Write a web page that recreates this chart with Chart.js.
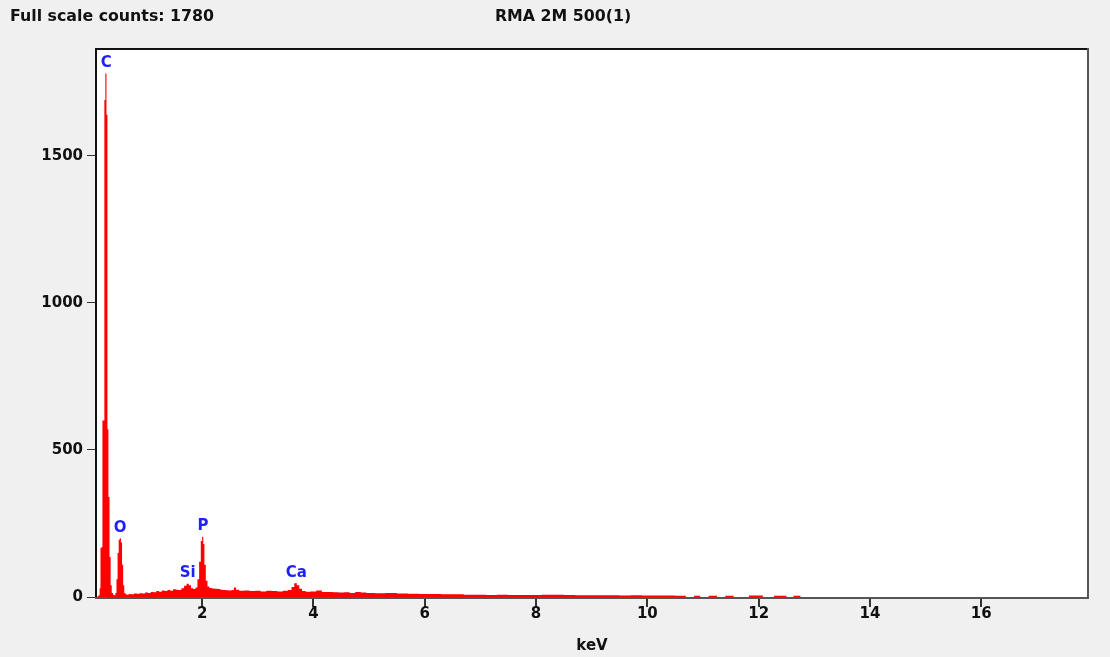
<!DOCTYPE html>
<html>
<head>
<meta charset="utf-8">
<title>RMA 2M 500(1)</title>
<script src="https://cdn.jsdelivr.net/npm/chart.js@4.4.1/dist/chart.umd.min.js"></script>
<style>
  body { margin: 0; background: #f0f0f0; }
  #wrap { position: relative; width: 1110px; height: 657px; background: #f0f0f0; overflow: hidden; }
  .head { position: absolute; top: 6px; font: bold 15.8px "DejaVu Sans", sans-serif; color: #111; white-space: nowrap; }
  #scale { left: 10px; }
  #name { left: 563px; transform: translateX(-50%); }
  canvas { position: absolute; left: 0; top: 0; }
</style>
</head>
<body>
<div id="wrap">
  <canvas id="spectrum" width="1110" height="657"></canvas>
  <div class="head" id="scale">Full scale counts: 1780</div>
  <div class="head" id="name">RMA 2M 500(1)</div>
</div>
<script>
// spectrum (keV / counts)
const energies = [
  0.11, 0.13, 0.15, 0.165, 0.18, 0.2, 0.215, 0.235, 0.25, 0.27, 0.29, 0.305, 0.325, 0.345, 0.365, 0.385,
  0.41, 0.43, 0.45, 0.47, 0.49, 0.51, 0.53, 0.55, 0.57, 0.59, 0.61, 0.63, 0.66, 0.7, 0.75, 0.8,
  0.85, 0.9, 0.95, 1.0, 1.05, 1.1, 1.15, 1.2, 1.25, 1.3, 1.35, 1.4, 1.45, 1.5, 1.55, 1.6,
  1.65, 1.7, 1.74, 1.78, 1.82, 1.86, 1.9, 1.93, 1.96, 1.99, 2.01, 2.03, 2.05, 2.08, 2.11, 2.15,
  2.2, 2.25, 2.3, 2.35, 2.4, 2.45, 2.5, 2.55, 2.59, 2.63, 2.7, 2.8, 2.9, 3.0, 3.1, 3.2,
  3.3, 3.4, 3.5, 3.58, 3.63, 3.68, 3.72, 3.77, 3.82, 3.9, 4.0, 4.1, 4.2, 4.3, 4.4, 4.5,
  4.6, 4.7, 4.8, 4.9, 5.0, 5.2, 5.4, 5.6, 5.8, 6.0, 6.2, 6.4, 6.6, 6.8, 7.0, 7.2,
  7.4, 7.6, 7.8, 8.0, 8.2, 8.4, 8.6, 8.8, 9.0, 9.2, 9.4, 9.6, 9.8, 10.0, 10.2, 10.4,
  10.6, 10.78, 10.9, 11.0, 11.2, 11.3, 11.5, 11.6, 12.05, 12.1, 12.45, 12.55, 12.7, 12.8, 17.9
];
const counts = [
  0, 3, 6, 30, 167, 170, 600, 600, 1690, 1780, 1640, 570, 340, 136, 40, 14,
  8, 6, 14, 60, 150, 195, 200, 185, 110, 40, 14, 9, 8, 10, 9, 12,
  11, 13, 12, 15, 14, 17, 16, 20, 18, 22, 20, 24, 21, 26, 25, 24,
  30, 38, 45, 40, 30, 27, 32, 60, 120, 190, 205, 180, 110, 55, 36, 31,
  29, 28, 27, 25, 24, 23, 22, 24, 32, 25, 21, 22, 20, 21, 19, 21,
  20, 19, 21, 24, 34, 47, 40, 28, 20, 18, 19, 22, 17, 17, 16, 15,
  16, 14, 17, 15, 14, 13, 14, 12, 11, 10, 10, 9, 9, 8, 8, 7,
  8, 7, 7, 7, 8, 8, 7, 6, 6, 6, 6, 5, 6, 5, 5, 5,
  4, 0, 4, 0, 4, 0, 4, 0, 5, 0, 4, 0, 4, 0, 0
];

// element markers
const elements = ["C", "O", "Si", "P", "Ca"];
const elementKeV = [0.277, 0.525, 1.74, 2.013, 3.69];
const elementPeak = [1780, 200, 47, 205, 47];

const xTicks = [2, 4, 6, 8, 10, 12, 14, 16];
const yTicks = [0, 500, 1000, 1500];

const plotFrame = {
  id: "plotFrame",
  beforeDraw(chart) {
    const { ctx, chartArea: a } = chart;
    ctx.save();
    ctx.fillStyle = "#ffffff";
    ctx.fillRect(a.left, a.top, a.right - a.left, a.bottom - a.top);
    ctx.restore();
  },
  afterDraw(chart) {
    const { ctx, chartArea: a } = chart;
    ctx.save();
    ctx.lineWidth = 2;
    ctx.strokeStyle = "#111";
    ctx.beginPath();
    ctx.moveTo(a.left - 1, a.bottom);
    ctx.lineTo(a.left - 1, a.top - 1);
    ctx.lineTo(a.right, a.top - 1);
    ctx.stroke();
    ctx.strokeStyle = "#555";
    ctx.beginPath();
    ctx.moveTo(a.right + 1, a.top - 2);
    ctx.lineTo(a.right + 1, a.bottom + 1);
    ctx.lineTo(a.left - 2, a.bottom + 1);
    ctx.stroke();
    ctx.restore();
  }
};

const peakLabels = {
  id: "peakLabels",
  afterDatasetsDraw(chart) {
    const { ctx, scales } = chart;
    ctx.save();
    ctx.font = "bold 15px 'DejaVu Sans', sans-serif";
    ctx.fillStyle = "#1f1fff";
    ctx.textAlign = "center";
    ctx.textBaseline = "bottom";
    elements.forEach((el, i) => {
      const x = scales.x.getPixelForValue(elementKeV[i]);
      const y = scales.y.getPixelForValue(elementPeak[i]) - 3;
      ctx.fillText(el, x, y);
    });
    ctx.restore();
  }
};

new Chart(document.getElementById("spectrum"), {
  type: "line",
  data: {
    datasets: [
      {
        label: "counts",
        data: energies.map((e, i) => ({ x: e, y: counts[i] })),
        borderColor: "#ff0000",
        backgroundColor: "#ff0000",
        borderWidth: 0,
        pointRadius: 0,
        stepped: "middle",
        fill: "origin",
      },
    ],
  },
  options: {
    responsive: false,
    animation: false,
    devicePixelRatio: 1,
    layout: { padding: { top: 50, right: 23, left: 0, bottom: 0 } },
    plugins: {
      legend: { display: false },
      tooltip: { enabled: false },
    },
    scales: {
      x: {
        type: "linear",
        min: 0.11,
        max: 17.9,
        afterBuildTicks: (axis) => { axis.ticks = xTicks.map((v) => ({ value: v })); },
        afterFit: (axis) => { axis.height = 60; },
        border: { display: false },
        grid: { drawOnChartArea: false, drawTicks: true, tickLength: 10, color: "#333", lineWidth: 2 },
        ticks: { color: "#111", padding: -2, font: { family: "DejaVu Sans", size: 15, weight: "bold" } },
        title: {
          display: true,
          text: "keV",
          color: "#111",
          padding: { top: 0, bottom: 2 },
          font: { family: "DejaVu Sans", size: 15, weight: "bold" },
        },
      },
      y: {
        min: 0,
        max: 1860,
        afterBuildTicks: (axis) => { axis.ticks = yTicks.map((v) => ({ value: v })); },
        afterFit: (axis) => { axis.width = 97; },
        border: { display: false },
        grid: { drawOnChartArea: false, drawTicks: true, tickLength: 10, color: "#333", lineWidth: 1 },
        ticks: {
          color: "#111",
          padding: 4,
          font: { family: "DejaVu Sans", size: 15, weight: "bold" },
          callback: (v) => String(v),
        },
      },
    },
  },
  plugins: [plotFrame, peakLabels],
});
</script>
</body>
</html>
